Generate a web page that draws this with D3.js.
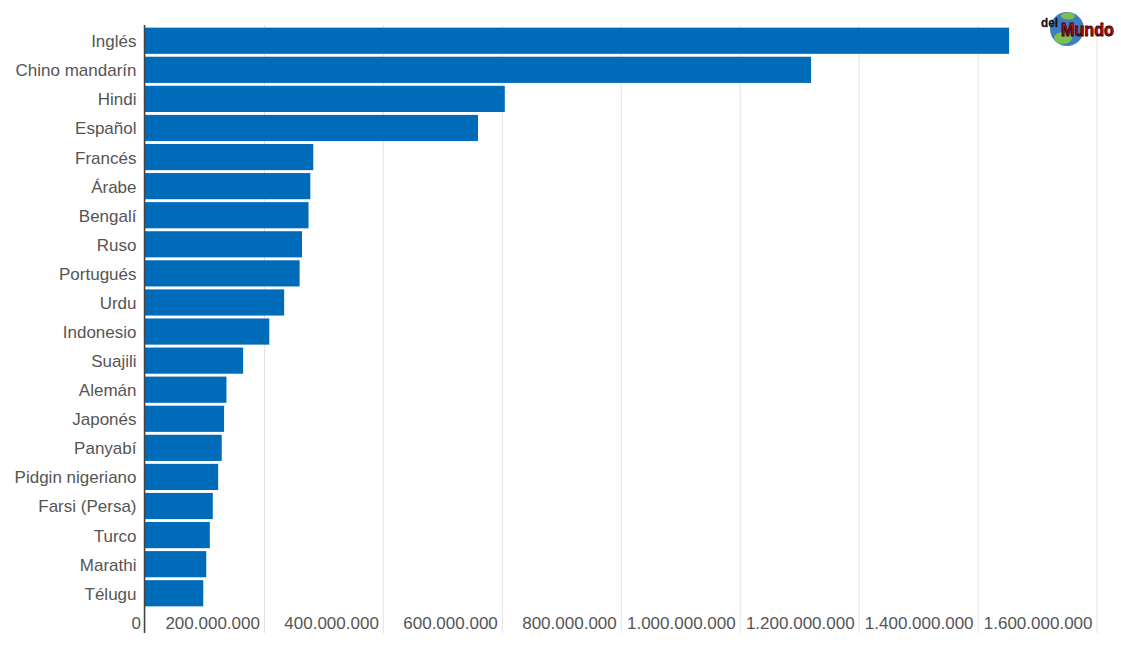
<!doctype html>
<html>
<head>
	<meta charset="utf-8">
	<script src="https://d3js.org/d3.v7.min.js"></script>
	<style>
		html, body { margin: 0; padding: 0; background: #fff; }
		svg { display: block; font-family: "Liberation Sans", Arial, sans-serif; }
	</style>
</head>
<body>
	<svg id="chart" width="1121" height="654"></svg>
	<script>
		var languages = ["Inglés", "Chino mandarín", "Hindi", "Español", "Francés", "Árabe", "Bengalí", "Ruso", "Portugués", "Urdu", "Indonesio", "Suajili", "Alemán", "Japonés", "Panyabí", "Pidgin nigeriano", "Farsi (Persa)", "Turco", "Marathi", "Télugu"];
		var speakers = [1453000000, 1120000000, 605000000, 560000000, 283000000, 278000000, 275000000, 264000000, 260000000, 234000000, 209000000, 165000000, 137000000, 133000000, 129000000, 123000000, 114000000, 109000000, 103000000, 98000000];
		var xTicks = [0, 200000000, 400000000, 600000000, 800000000, 1000000000, 1200000000, 1400000000, 1600000000];

		dataViz()
		function dataViz() {
			var svg = d3.select("#chart");
			var axisTop = 25, axisBottom = 633;

			var xScale = d3.scaleLinear()
				.domain([0, 1600000000])
				.range([145, 1096.5]);

			var yScale = d3.scaleBand()
				.domain(languages)
				.range([26.2, 607.8])
				.paddingInner(0.1)
				.paddingOuter(0.05);

			var dotted = d3.format(",");
			var xAxis = d3.axisBottom(xScale)
				.tickValues(xTicks)
				.tickSize(axisBottom - axisTop)
				.tickFormat(function(d) { return dotted(d).replace(/,/g, "."); });

			var gx = svg.append("g")
				.attr("transform", "translate(0," + axisTop + ")")
				.call(xAxis);
			gx.select(".domain").remove();
			gx.selectAll(".tick line").attr("stroke", "#e2e2e2");
			gx.selectAll(".tick text")
				.attr("x", -4.5)
				.attr("y", 598)
				.attr("dy", "0.35em")
				.attr("text-anchor", "end")
				.attr("fill", "#555")
				.style("font-size", "17px");

			svg.selectAll("rect.bar")
				.data(speakers)
				.enter()
				.append("rect")
					.attr("class", "bar")
					.attr("x", xScale(0))
					.attr("y", function(d, i) { return yScale(languages[i]); })
					.attr("width", function(d) { return xScale(d) - xScale(0); })
					.attr("height", yScale.bandwidth())
					.attr("fill", "#006bb8");

			var yAxis = d3.axisLeft(yScale).tickSize(0).tickPadding(8.5);
			var gy = svg.append("g")
				.attr("transform", "translate(145,1)")
				.call(yAxis);
			gy.select(".domain").remove();
			gy.selectAll(".tick text")
				.attr("fill", "#555")
				.style("font-size", "17px");

			svg.append("line")
				.attr("x1", 144.5).attr("x2", 144.5)
				.attr("y1", axisTop).attr("y2", axisBottom)
				.attr("stroke", "#444")
				.attr("stroke-width", 1.5);

			// logo top right
			var defs = svg.append("defs");
			var red = defs.append("linearGradient").attr("id", "red").attr("x1", 0).attr("y1", 0).attr("x2", 0).attr("y2", 1);
			red.append("stop").attr("offset", "0%").attr("stop-color", "#f01818");
			red.append("stop").attr("offset", "100%").attr("stop-color", "#7a0000");

			var logo = svg.append("g");
			logo.append("circle").attr("cx", 1067).attr("cy", 29).attr("r", 17).attr("fill", "#3f7fc0");
			logo.append("ellipse").attr("cx", 1063).attr("cy", 38).attr("rx", 9).attr("ry", 6).attr("fill", "#7cc04f");
			logo.append("ellipse").attr("cx", 1068).attr("cy", 16).attr("rx", 7).attr("ry", 3.5).attr("fill", "#7cc04f");
			logo.append("text")
				.attr("x", 1041).attr("y", 27)
				.attr("fill", "#111")
				.attr("stroke", "#111").attr("stroke-width", 0.3)
				.style("font-size", "13px").style("font-weight", "bold")
				.attr("textLength", 17).attr("lengthAdjust", "spacingAndGlyphs")
				.text("del");
			logo.append("text")
				.attr("x", 1061).attr("y", 36)
				.attr("fill", "url(#red)")
				.attr("stroke", "#400").attr("stroke-width", 0.9)
				.style("font-size", "18px").style("font-weight", "bold")
				.attr("textLength", 53).attr("lengthAdjust", "spacingAndGlyphs")
				.text("Mundo");
		}
	</script>
</body>
</html>
